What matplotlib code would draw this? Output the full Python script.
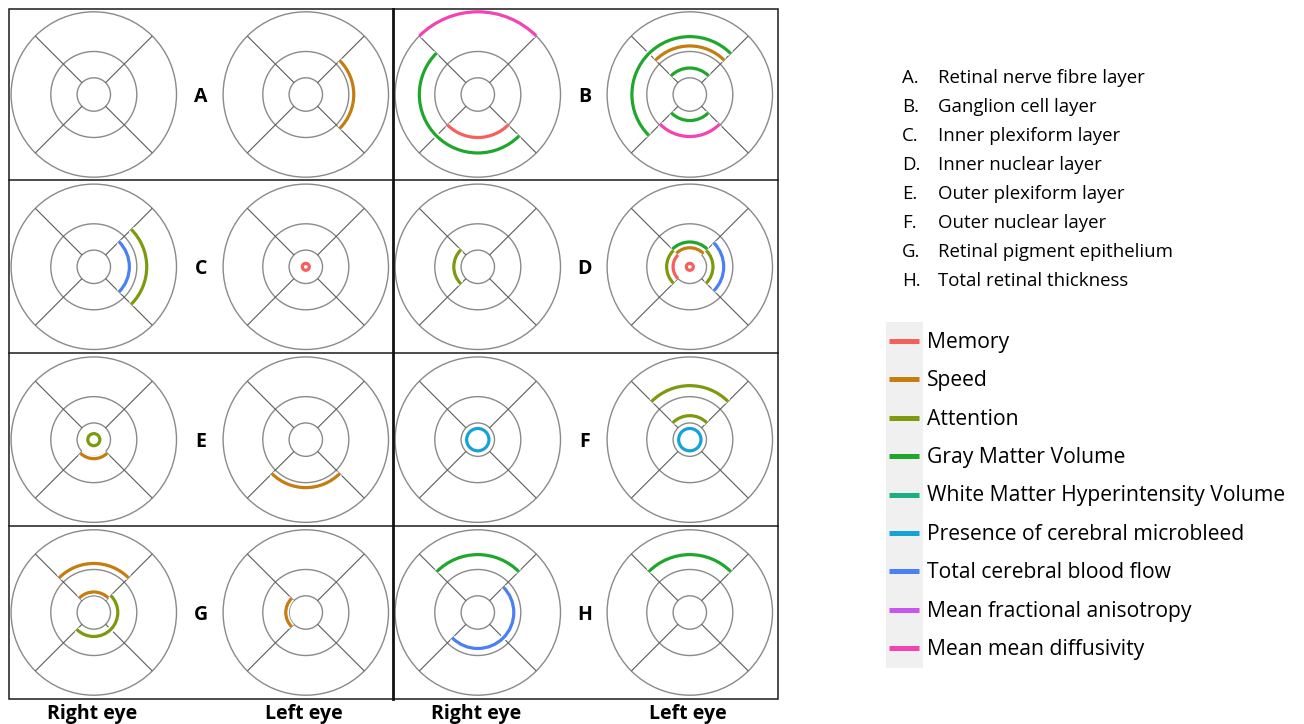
import math
import matplotlib
matplotlib.use("Agg")
import matplotlib.pyplot as plt
from matplotlib.patches import Arc, Circle, Rectangle
import matplotlib.patheffects as pe

plt.rcParams['font.family'] = ['Open Sans', 'DejaVu Sans']

# ---------------- data ----------------
layers = ['A', 'B', 'C', 'D', 'E', 'F', 'G', 'H']
layer_names = ['Retinal nerve fibre layer', 'Ganglion cell layer', 'Inner plexiform layer',
               'Inner nuclear layer', 'Outer plexiform layer', 'Outer nuclear layer',
               'Retinal pigment epithelium', 'Total retinal thickness']
eye_labels = ['Right eye', 'Left eye']

measures = ['Memory', 'Speed', 'Attention', 'Gray Matter Volume',
            'White Matter Hyperintensity Volume', 'Presence of cerebral microbleed',
            'Total cerebral blood flow', 'Mean fractional anisotropy', 'Mean mean diffusivity']
measure_colors = ['#F5605C', '#C47D0E', '#7D9A0F', '#1FA72D', '#1DAE86',
                  '#14A3D8', '#4A80F3', '#C955F0', '#F343B3']

# significant associations: layer, eye, measure, radial position (fraction of grid radius),
# quadrants covered (counter-clockwise order) or 'full' for a ring in the centre
assoc_layer = ['A',
               'B', 'B', 'B', 'B', 'B', 'B', 'B', 'B',
               'C', 'C', 'C',
               'D', 'D', 'D', 'D', 'D', 'D', 'D', 'D',
               'E', 'E', 'E',
               'F', 'F', 'F', 'F',
               'G', 'G', 'G', 'G',
               'H', 'H', 'H']
assoc_eye = ['L',
             'R', 'R', 'R', 'L', 'L', 'L', 'L', 'L',
             'R', 'R', 'L',
             'R', 'L', 'L', 'L', 'L', 'L', 'L', 'L',
             'R', 'R', 'L',
             'R', 'L', 'L', 'L',
             'R', 'R', 'R', 'L',
             'R', 'R', 'L']
assoc_measure = ['Speed',
                 'Mean mean diffusivity', 'Gray Matter Volume', 'Memory',
                 'Gray Matter Volume', 'Speed', 'Gray Matter Volume', 'Gray Matter Volume',
                 'Mean mean diffusivity',
                 'Total cerebral blood flow', 'Attention', 'Memory',
                 'Attention', 'Gray Matter Volume', 'Speed', 'Attention', 'Attention',
                 'Memory', 'Memory', 'Total cerebral blood flow',
                 'Attention', 'Speed', 'Speed',
                 'Presence of cerebral microbleed', 'Attention', 'Attention',
                 'Presence of cerebral microbleed',
                 'Speed', 'Speed', 'Attention', 'Speed',
                 'Gray Matter Volume', 'Total cerebral blood flow', 'Gray Matter Volume']
assoc_radius = [0.58,
                1.00, 0.707, 0.52, 0.70, 0.587, 0.32, 0.315, 0.508,
                0.43, 0.64, 0.042,
                0.29, 0.30, 0.23, 0.28, 0.28, 0.202, 0.042, 0.41,
                0.073, 0.23, 0.58,
                0.135, 0.653, 0.29, 0.135,
                0.593, 0.248, 0.29, 0.242,
                0.70, 0.435, 0.70]
assoc_quadrants = ['right',
                   'top', 'left,bottom', 'bottom', 'top,left', 'top', 'top', 'bottom', 'bottom',
                   'right', 'right', 'full',
                   'left', 'top', 'top', 'left', 'right', 'left', 'full', 'right',
                   'full', 'bottom', 'bottom',
                   'full', 'top', 'top', 'full',
                   'top', 'top', 'bottom,right', 'left',
                   'top', 'bottom,right', 'top']

# ---------------- layout ----------------
W, H = 1304, 724
fig = plt.figure(figsize=(W / 100, H / 100), dpi=100)
ax = fig.add_axes([0, 0, 1, 1])
ax.set_xlim(0, W)
ax.set_ylim(0, H)
ax.axis('off')


def sy(y):
    return H - y


col_edges = [9.3, 393.3, 777.7]
row_edges = [8.7, 180.3, 353.3, 526.0, 699.0]
R_GRID = 82.7
R_INNER = 0.202 * R_GRID
R_MID = 0.52 * R_GRID
eye_offset = {'R': 84.5, 'L': 296.5}
label_offset = 191.5
quad_center = {'right': 0, 'top': 90, 'left': 180, 'bottom': 270}

grid_color = '#8A8A8A'
diag_color = '#5C5C5C'
arc_lw = 2.3
halo = [pe.Stroke(linewidth=arc_lw + 2.3, foreground='white'), pe.Normal()]


def cell_geom(layer):
    i = layers.index(layer)
    return col_edges[i % 2], row_edges[i // 2], row_edges[i // 2 + 1]


def eye_center(layer, eye):
    x0, y0, y1 = cell_geom(layer)
    return x0 + eye_offset[eye], sy((y0 + y1) / 2)


# ETDRS grids
for layer in layers:
    for eye in ['R', 'L']:
        cx, cy = eye_center(layer, eye)
        for r in (R_INNER, R_MID, R_GRID):
            ax.add_patch(Circle((cx, cy), r, fill=False, ec=grid_color, lw=1.0, zorder=1))
        for a in (45, 135, 225, 315):
            ca, sa = math.cos(math.radians(a)), math.sin(math.radians(a))
            ax.plot([cx + R_INNER * ca, cx + R_GRID * ca], [cy + R_INNER * sa, cy + R_GRID * sa],
                    color=diag_color, lw=0.8, zorder=1, solid_capstyle='butt')
    x0, y0, y1 = cell_geom(layer)
    ax.text(x0 + label_offset, sy((y0 + y1) / 2 + 7), layer, ha='center', va='baseline',
            fontsize=14, fontweight='bold', color='black')

# associations
for lay, eye, meas, rad, quads in zip(assoc_layer, assoc_eye, assoc_measure,
                                      assoc_radius, assoc_quadrants):
    cx, cy = eye_center(lay, eye)
    col = measure_colors[measures.index(meas)]
    r = rad * R_GRID
    if quads == 'full':
        p = Circle((cx, cy), r, fill=False, ec=col, lw=arc_lw, zorder=3)
    else:
        q = quads.split(',')
        t1 = quad_center[q[0]] - 45
        t2 = quad_center[q[-1]] + 45
        if t2 <= t1:
            t2 += 360
        p = Arc((cx, cy), 2 * r, 2 * r, theta1=t1, theta2=t2, ec=col, lw=arc_lw, zorder=3)
    p.set_path_effects(halo)
    ax.add_patch(p)

# frame
ax.add_patch(Rectangle((col_edges[0], sy(row_edges[-1])), col_edges[-1] - col_edges[0],
                       row_edges[-1] - row_edges[0], fill=False, ec='#1a1a1a', lw=1.1, zorder=5))
for y in row_edges[1:-1]:
    ax.plot([col_edges[0], col_edges[-1]], [sy(y), sy(y)], color='#1a1a1a', lw=1.1, zorder=5)
ax.plot([col_edges[1], col_edges[1]], [sy(row_edges[0]), sy(row_edges[-1])],
        color='#111111', lw=2.0, zorder=5)

# eye labels under columns
for c in range(2):
    for k, eye in enumerate(['R', 'L']):
        ax.text(col_edges[c] + eye_offset[eye] - 2, sy(718.5), eye_labels[k], ha='center',
                va='baseline', fontsize=14, fontweight='bold', color='black')

# layer list
for i, (lay, name) in enumerate(zip(layers, layer_names)):
    yb = sy(82.7 + 29.0 * i)
    ax.text(901.7, yb, lay + '.', ha='left', va='baseline', fontsize=13.4, color='black')
    ax.text(937.7, yb, name, ha='left', va='baseline', fontsize=13.4, color='black')

# legend of measures
ax.add_patch(Rectangle((886, sy(667.7)), 36.7, 346, fc='#F0F0F0', ec='none', zorder=0))
for i, (m, col) in enumerate(zip(measures, measure_colors)):
    yc = sy(341 + 38.4 * i)
    ax.plot([889.3, 919.3], [yc, yc], color=col, lw=3.6, solid_capstyle='butt', zorder=2)
    ax.text(926.7, yc - 6.8, m, ha='left', va='baseline', fontsize=15.2, color='black')

fig.savefig('out.png', dpi=100)
